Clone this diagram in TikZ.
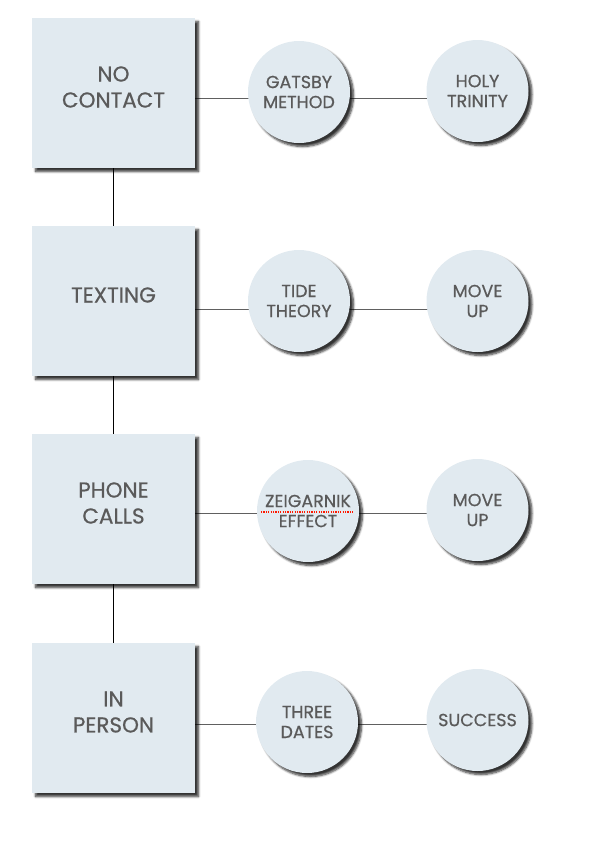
\documentclass[tikz,border=0pt]{standalone}
\usepackage{fontspec}
\setmainfont{Poppins}[FakeBold=0.6]
\usetikzlibrary{shadows.blur,backgrounds}
\definecolor{boxfill}{HTML}{E1EAF0}
\definecolor{ink}{HTML}{5A5A5A}
\definecolor{wire}{HTML}{606060}

\begin{document}
\begin{tikzpicture}[x=1pt,y=-1pt,
  stage/.style={fill=boxfill, minimum width=163pt, minimum height=150pt,
    blur shadow={shadow xshift=3.5pt, shadow yshift=-3.5pt, shadow blur steps=6, shadow opacity=80}},
  stagetext/.style={text=ink, align=center, font=\fontsize{21.5}{26}\selectfont},
  stepcirc/.style={circle, fill=boxfill, minimum size=102pt, inner sep=0pt, text=ink, align=center,
    font=\fontsize{17.5}{20}\selectfont,
    blur shadow={shadow xshift=3.5pt, shadow yshift=-3.5pt, shadow blur steps=6, shadow opacity=80}},
  link/.style={wire, line width=0.8pt},
  chain/.style={black, line width=1.1pt}]
  \useasboundingbox (0,0) rectangle (590,847);
  % stages on the left
  \foreach \i/\y/\lbl in {1/93/{NO\\CONTACT}, 2/301/TEXTING, 3/509/{PHONE\\CALLS}, 4/718/{IN\\PERSON}} {
    \node[stage] (stage\i) at (113.5,\y) {};
    \node[stagetext] (title\i) at (113.5,\y-6) {\lbl};
  }
  % steps
  \foreach \i/\xa/\ya/\yb/\la/\lb in {1/299/92/91/{GATSBY\\METHOD}/{HOLY\\TRINITY},
                                      2/299/301/301/{TIDE\\THEORY}/{MOVE\\UP},
                                      3/308/511/510/{ZEIGARNIK\\EFFECT}/{MOVE\\UP},
                                      4/307/722/720/{THREE\\DATES}/{SUCCESS}} {
    \node[stepcirc] (a\i) at (\xa,\ya) {\la};
    \node[stepcirc] (b\i) at (477.5,\yb) {\lb};
  }
  \begin{scope}[on background layer]
    \foreach \i/\ly in {1/98, 2/309, 3/513, 4/724}
      \draw[link] (stage\i.east |- 0,\ly) -- (b\i.center |- 0,\ly);
    \foreach \i/\j in {1/2, 2/3, 3/4}
      \draw[chain] (stage\i.south) -- (stage\j.north);
  \end{scope}
  % spell-check mark
  \draw[red!80!orange, line width=1.2pt, dash pattern=on 1.2pt off 1.2pt]
    ([xshift=-47pt,yshift=-1pt]a3.center) -- ([xshift=45pt,yshift=-1pt]a3.center);
\end{tikzpicture}
\end{document}
